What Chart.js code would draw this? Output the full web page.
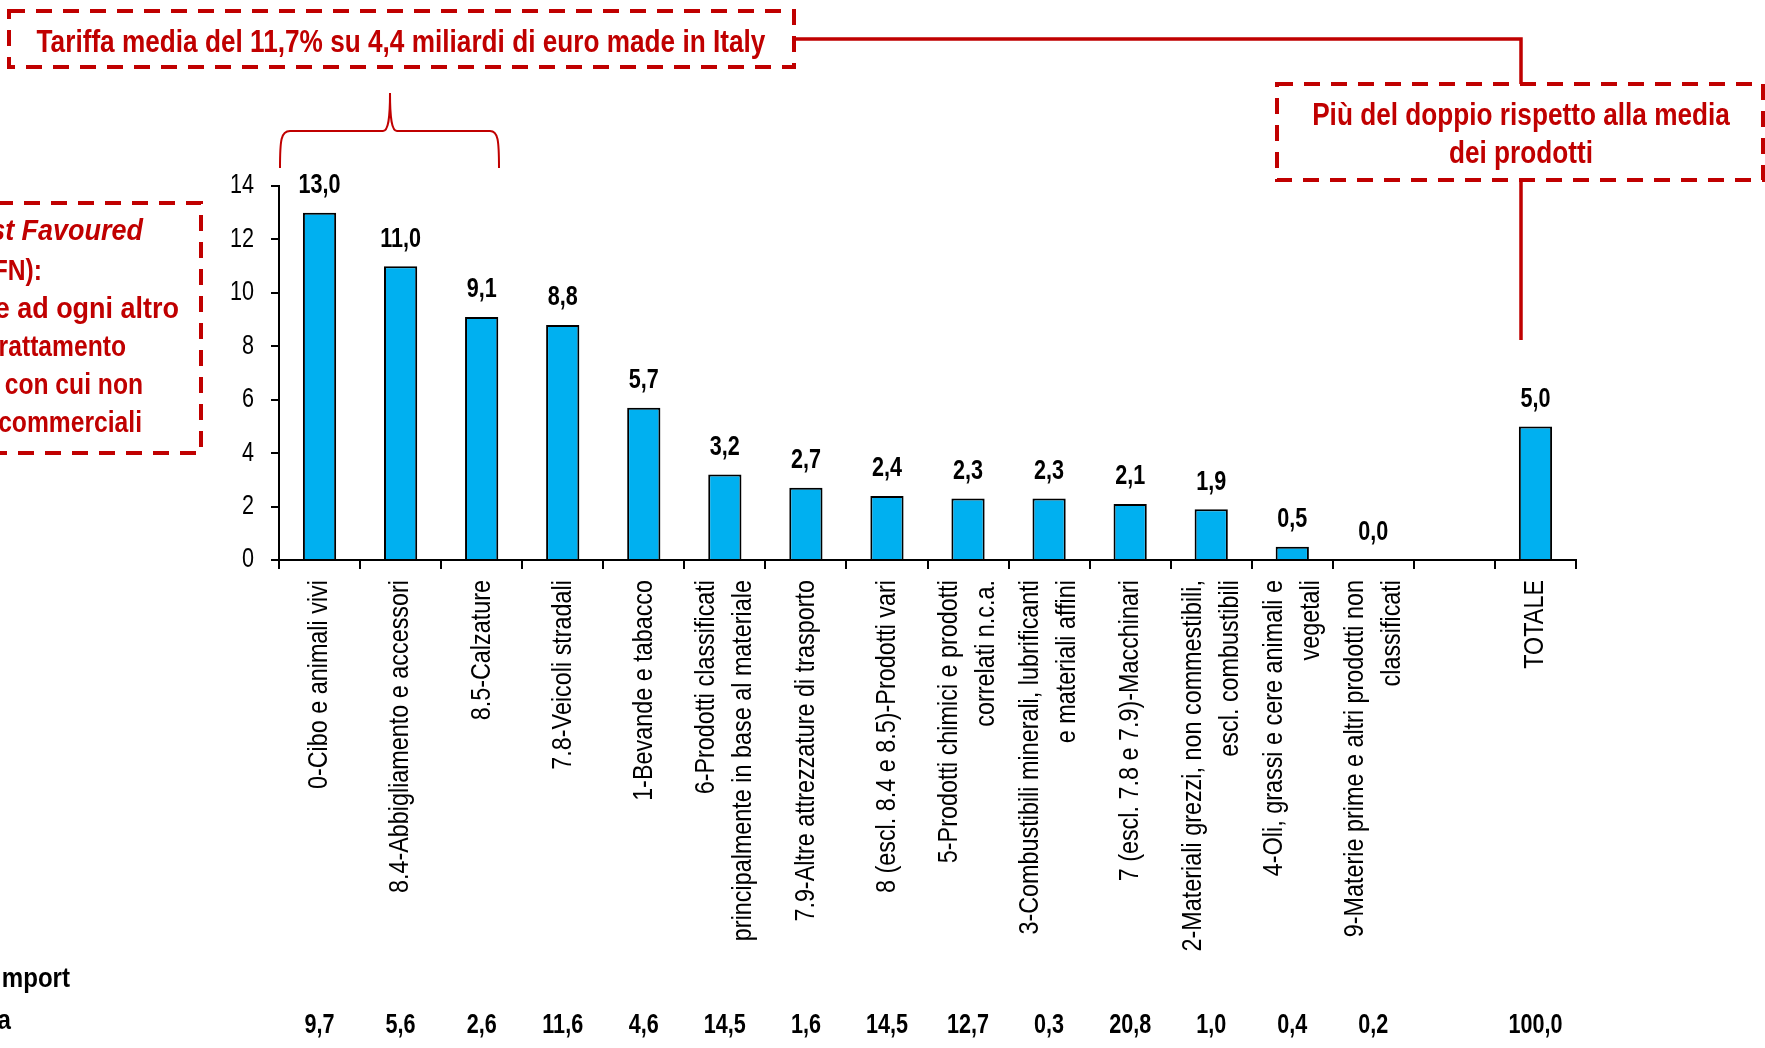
<!DOCTYPE html>
<html>
<head>
<meta charset="utf-8">
<script src="https://cdn.jsdelivr.net/npm/chart.js@4/dist/chart.umd.min.js"></script>
<style>
  html, body { margin: 0; padding: 0; background: #fff; }
  #wrap { width: 1765px; height: 1048px; overflow: hidden; }
</style>
</head>
<body>
<div id="wrap"><canvas id="chart" width="1765" height="1048"></canvas></div>
<script>

// categorie (etichette su più righe)
const categories = [
    ["0-Cibo e animali vivi"],
    ["8.4-Abbigliamento e accessori"],
    ["8.5-Calzature"],
    ["7.8-Veicoli stradali"],
    ["1-Bevande e tabacco"],
    ["6-Prodotti classificati", "principalmente in base al materiale"],
    ["7.9-Altre attrezzature di trasporto"],
    ["8 (escl. 8.4 e 8.5)-Prodotti vari"],
    ["5-Prodotti chimici e prodotti", "correlati n.c.a."],
    ["3-Combustibili minerali, lubrificanti", "e materiali affini"],
    ["7 (escl. 7.8 e 7.9)-Macchinari"],
    ["2-Materiali grezzi, non commestibili,", "escl. combustibili"],
    ["4-Oli, grassi e cere animali e", "vegetali"],
    ["9-Materie prime e altri prodotti non", "classificati"],
    [""],
    ["TOTALE"]
];

// tariffa media MFN (%)
const tariffs = [13.0, 11.0, 9.1, 8.8, 5.7, 3.2, 2.7, 2.4, 2.3, 2.3, 2.1, 1.9, 0.5, 0.0, null, 5.0];

// quota import (%)
const importShare = [9.7, 5.6, 2.6, 11.6, 4.6, 14.5, 1.6, 14.5, 12.7, 0.3, 20.8, 1.0, 0.4, 0.2, null, 100.0];

const yTicks = [0, 2, 4, 6, 8, 10, 12, 14];

const RED = "#C00000";
const FONT = "'Liberation Sans', Arial, sans-serif";

function fmt(v) {
    return v.toFixed(1).replace('.', ',');
}

// testo "narrow": Liberation Sans compresso in orizzontale
function txt(ctx, s, x, y, o) {
    ctx.save();
    ctx.translate(x, y);
    if (o.rot) ctx.rotate(o.rot);
    ctx.scale(o.cond || 0.82, 1);
    ctx.font = (o.italic ? "italic " : "") + (o.bold ? "bold " : "") + o.size + "px " + FONT;
    ctx.fillStyle = o.color || "#000";
    ctx.textAlign = o.align || "center";
    ctx.textBaseline = "middle";
    ctx.fillText(s, 0, o.dy || 0);
    const w = ctx.measureText(s).width * (o.cond || 0.82);
    ctx.restore();
    return w;
}

// etichette sopra le barre
const valueLabels = {
    id: 'valueLabels',
    afterDatasetsDraw(chart) {
        const ctx = chart.ctx;
        const meta = chart.getDatasetMeta(0);
        meta.data.forEach((bar, i) => {
            const v = tariffs[i];
            if (v === null) return;
            txt(ctx, fmt(v), bar.x, bar.y - 27, { size: 27, bold: true, cond: 0.8 });
        });
    }
};

// etichette assi + riga quota import
const axisText = {
    id: 'axisText',
    afterDraw(chart) {
        const ctx = chart.ctx;
        const xs = chart.scales.x;
        const ys = chart.scales.y;

        yTicks.forEach(v => {
            txt(ctx, String(v), 254, ys.getPixelForValue(v), { size: 27, align: "right", cond: 0.8 });
        });

        categories.forEach((lines, i) => {
            const x = xs.getPixelForValue(i);
            lines.forEach((t, j) => {
                txt(ctx, t, x, 580, {
                    size: 28.5, align: "right", rot: -Math.PI / 2,
                    dy: (j - (lines.length - 1) / 2) * 37
                });
            });
        });

        importShare.forEach((v, i) => {
            if (v === null) return;
            txt(ctx, fmt(v), xs.getPixelForValue(i), 1026, { size: 27, bold: true, cond: 0.8 });
        });

        txt(ctx, "Quota % import", 70, 979, { size: 28, bold: true, align: "right", cond: 0.86 });
        txt(ctx, "dall'Italia", 11, 1021, { size: 28, bold: true, align: "right", cond: 0.86 });
    }
};

function dashedBox(ctx, x1, y1, x2, y2) {
    ctx.save();
    ctx.strokeStyle = RED;
    ctx.lineWidth = 4;
    ctx.setLineDash([16, 11]);
    ctx.strokeRect(x1, y1, x2 - x1, y2 - y1);
    ctx.restore();
}

// box, parentesi e connettori
const notes = {
    id: 'notes',
    afterDraw(chart) {
        const ctx = chart.ctx;
        ctx.save();

        dashedBox(ctx, 9, 11, 794, 67);
        dashedBox(ctx, 1277, 84, 1763, 180);
        dashedBox(ctx, -30, 203, 201, 453);

        ctx.strokeStyle = RED;
        ctx.lineWidth = 3.5;
        ctx.beginPath();
        ctx.moveTo(794, 39);
        ctx.lineTo(1521, 39);
        ctx.lineTo(1521, 84);
        ctx.moveTo(1521, 180);
        ctx.lineTo(1521, 340);
        ctx.stroke();

        // parentesi graffa
        ctx.lineWidth = 2;
        ctx.beginPath();
        ctx.moveTo(280, 168);
        ctx.bezierCurveTo(280, 140, 281, 131, 290, 131);
        ctx.lineTo(383, 131);
        ctx.bezierCurveTo(388, 131, 390, 120, 390, 93);
        ctx.bezierCurveTo(390, 120, 392, 131, 397, 131);
        ctx.lineTo(490, 131);
        ctx.bezierCurveTo(498, 131, 499, 140, 499, 168);
        ctx.stroke();
        ctx.restore();

        const red = { size: 31, bold: true, color: RED, cond: 0.845 };
        txt(ctx, "Tariffa media del 11,7% su 4,4 miliardi di euro made in Italy", 401, 43, red);
        txt(ctx, "Più del doppio rispetto alla media", 1521, 116, red);
        txt(ctx, "dei prodotti", 1521, 154, red);

        // box a sinistra (tagliato dal bordo)
        const side = { size: 29, bold: true, color: RED, cond: 0.85, align: "right" };
        const wide = Object.assign({}, side, { cond: 0.93 });
        const w = txt(ctx, "Most Favoured", 143, 232, Object.assign({}, wide, { italic: true }));
        txt(ctx, "Tariffe ", 143 - w, 232, side);
        txt(ctx, "Nation (MFN):", 42, 272, side);
        txt(ctx, "applicate ad ogni altro", 179, 310, wide);
        txt(ctx, "Paese con trattamento", 126, 348, side);
        txt(ctx, "MFN, ovvero con cui non", 143, 386, side);
        txt(ctx, "ha accordi commerciali", 142, 424, side);
    }
};

new Chart(document.getElementById('chart'), {
    type: 'bar',
    data: {
        labels: categories.map(c => c.join(' ')),
        datasets: [{
            data: tariffs,
            backgroundColor: "#00B0F0",
            borderColor: "#000",
            borderWidth: 2,
            categoryPercentage: 1,
            barPercentage: 0.41
        }]
    },
    options: {
        responsive: false,
        animation: false,
        devicePixelRatio: 1,
        layout: { padding: { top: 186, right: 189, bottom: 0, left: 0 } },
        plugins: {
            legend: { display: false },
            tooltip: { enabled: false }
        },
        scales: {
            x: {
                offset: true,
                grid: { drawOnChartArea: false, offset: true, color: "#000", tickColor: "#000", lineWidth: 2, tickLength: 9 },
                border: { color: "#000", width: 2 },
                ticks: { display: false },
                afterFit(scale) { scale.height = 488; }
            },
            y: {
                min: 0,
                max: 14,
                afterBuildTicks(scale) { scale.ticks = yTicks.map(v => ({ value: v })); },
                grid: { drawOnChartArea: false, color: "#000", tickColor: "#000", lineWidth: 2, tickLength: 8 },
                border: { color: "#000", width: 2 },
                ticks: { display: false },
                afterFit(scale) { scale.width = 279; }
            }
        }
    },
    plugins: [valueLabels, axisText, notes]
});
</script>
</body>
</html>
